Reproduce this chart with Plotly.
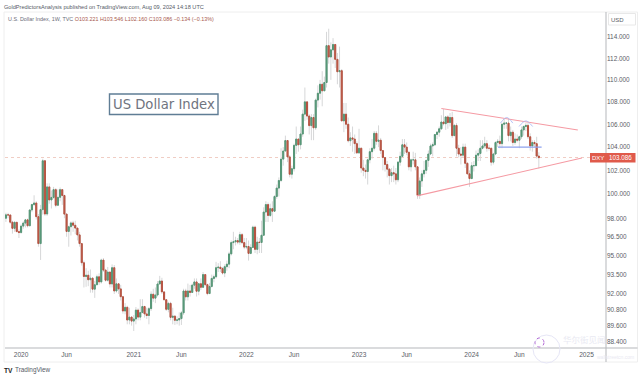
import pandas as pd
import plotly.graph_objects as go

W, H = 643, 379
L, R, T, B = 5, 606, 12, 348

first_week = "2019-11-18"

closes = [
 98.28,98.27,97.68,97.18,97.67,96.92,96.84,
 97.36,97.61,97.87,97.39,98.68,99.13,99.26,98.13,95.95,98.71,102.82,98.35,100.6,99.51,99.72,100.37,99.07,99.73,100.37,99.88,98.34,96.93,97.31,97.62,97.43,97.2,96.65,95.95,94.43,93.35,93.45,93.1,93.22,92.37,92.71,93.33,92.93,94.64,93.85,93.06,93.7,92.77,94.04,92.23,92.78,92.39,91.79,90.7,90.98,90.02,90.24,89.94,
 90.1,90.77,90.24,90.58,91.04,90.48,90.36,90.88,91.98,91.68,91.92,92.77,93.0,92.16,91.56,90.83,91.28,90.22,90.31,90.0,90.03,90.13,90.56,92.23,91.78,92.23,92.12,92.68,92.93,92.21,92.79,92.51,93.5,92.72,92.03,92.58,93.2,93.33,94.04,94.08,93.97,93.62,94.12,94.32,95.13,96.03,96.09,96.19,96.07,96.67,96.03,95.67,
 95.72,95.17,95.64,97.28,95.49,96.07,96.04,96.62,98.51,99.13,98.23,98.79,98.58,99.8,100.5,101.14,102.96,103.66,104.57,103.15,101.67,102.14,104.15,104.7,104.2,105.14,106.9,108.0,106.73,105.88,106.6,105.69,108.16,108.78,109.6,109.0,109.76,113.19,112.12,112.79,113.3,111.9,110.75,110.85,106.3,106.9,106.0,104.55,104.8,104.7,104.3,103.5,
 103.9,102.2,102.0,101.9,102.9,103.6,103.9,105.2,104.5,104.6,103.7,103.1,102.5,102.1,101.55,101.8,101.7,101.2,102.7,103.2,104.2,104.0,103.55,102.3,102.9,102.9,102.3,99.9,101.1,101.7,102.0,102.85,103.4,104.1,104.2,105.1,105.3,105.6,106.2,106.05,106.65,106.15,106.6,105.0,105.9,103.9,103.4,103.3,104.0,102.6,101.7,101.3,
 102.4,102.4,103.3,103.45,103.9,104.1,104.3,103.9,103.9,102.7,103.4,104.4,104.5,104.3,106.0,106.1,106.1,105.0,105.3,104.4,104.7,104.6,104.9,105.5,105.8,105.9,104.9,104.1,104.4,104.3,103.221,103.086,
]
opens = [
 98.0,98.28,98.27,97.68,97.18,97.67,96.92,
 96.84,97.36,97.61,97.87,97.39,98.68,99.13,99.26,98.13,95.95,98.71,102.82,98.35,100.6,99.51,99.72,100.37,99.07,99.73,100.37,99.88,98.34,96.93,97.31,97.62,97.43,97.2,96.65,95.95,94.43,93.35,93.45,93.1,93.22,92.37,92.71,93.33,92.93,94.64,93.85,93.06,93.7,92.77,94.04,92.23,92.78,92.39,91.79,90.7,90.98,90.02,90.24,
 89.94,90.1,90.77,90.24,90.58,91.04,90.48,90.36,90.88,91.98,91.68,91.92,92.77,93.0,92.16,91.56,90.83,91.28,90.22,90.31,90.0,90.03,90.13,90.56,92.23,91.78,92.23,92.12,92.68,92.93,92.21,92.79,92.51,93.5,92.72,92.03,92.58,93.2,93.33,94.04,94.08,93.97,93.62,94.12,94.32,95.13,96.03,96.09,96.19,96.07,96.67,96.03,
 95.67,95.72,95.17,95.64,97.28,95.49,96.07,96.04,96.62,98.51,99.13,98.23,98.79,98.58,99.8,100.5,101.14,102.96,103.66,104.57,103.15,101.67,102.14,104.15,104.7,104.2,105.14,106.9,108.0,106.73,105.88,106.6,105.69,108.16,108.78,109.6,109.0,109.76,113.19,112.12,112.79,113.3,111.9,110.75,110.85,106.3,106.9,106.0,104.55,104.8,104.7,104.3,
 103.5,103.9,102.2,102.0,101.9,102.9,103.6,103.9,105.2,104.5,104.6,103.7,103.1,102.5,102.1,101.55,101.8,101.7,101.2,102.7,103.2,104.2,104.0,103.55,102.3,102.9,102.9,102.3,99.9,101.1,101.7,102.0,102.85,103.4,104.1,104.2,105.1,105.3,105.6,106.2,106.05,106.65,106.15,106.6,105.0,105.9,103.9,103.4,103.3,104.0,102.6,101.7,
 101.3,102.4,102.4,103.3,103.45,103.9,104.1,104.3,103.9,103.9,102.7,103.4,104.4,104.5,104.3,106.0,106.1,106.1,105.0,105.3,104.4,104.7,104.6,104.9,105.5,105.8,105.9,104.9,104.1,104.4,104.3,103.221,
]
highs = [
 98.45,98.45,98.3,97.8,97.75,97.7,97.1,
 97.5,97.75,97.95,97.97,98.75,99.2,99.9,99.4,98.35,99.1,102.99,102.3,100.9,100.9,100.3,100.6,100.5,100.4,100.55,100.4,99.95,98.4,97.4,97.75,97.8,97.8,97.0,96.9,95.8,94.6,94.0,93.8,93.9,93.3,93.0,93.5,93.6,94.75,94.8,93.95,94.1,93.2,94.3,94.25,93.2,92.8,92.7,91.85,91.3,91.1,90.95,90.3,
 90.4,91.0,90.9,91.6,91.6,91.1,90.95,91.0,92.2,92.4,92.5,93.0,93.4,93.25,92.2,91.5,91.4,91.4,90.95,90.4,90.3,90.6,90.7,92.4,92.4,92.8,92.7,92.8,93.2,93.2,92.8,93.2,93.7,93.5,92.8,92.85,93.5,93.5,94.5,94.4,94.55,94.1,94.3,94.6,95.3,96.2,96.9,96.5,96.4,96.9,96.8,96.4,
 96.4,96.2,95.9,97.4,97.4,96.5,96.4,97.8,98.9,99.4,99.3,99.2,99.4,99.9,100.8,101.4,103.9,104.0,105.0,104.0,103.3,102.4,104.3,105.8,104.6,105.8,107.3,109.3,107.4,106.9,106.9,106.9,108.3,109.5,110.0,110.8,110.3,114.5,114.8,113.5,113.9,113.1,112.5,113.1,111.0,107.9,107.9,106.6,105.3,105.8,105.1,104.5,
 105.6,103.95,102.9,102.5,103.0,103.9,104.7,105.4,105.4,105.9,104.8,103.7,103.1,102.8,102.2,102.2,102.4,102.2,102.8,103.6,104.7,104.7,104.4,103.6,103.0,103.6,103.5,102.3,101.4,102.0,102.8,102.9,103.7,104.3,104.4,105.1,105.4,105.8,106.8,107.35,106.7,106.8,107.0,107.1,106.0,106.1,104.2,104.0,104.3,104.3,102.7,102.0,
 102.7,102.8,103.7,103.8,104.6,104.6,104.9,104.6,104.2,103.9,103.5,104.5,104.7,105.0,106.1,106.5,106.2,106.5,105.8,105.5,105.2,105.1,105.0,105.8,105.9,106.1,106.1,105.2,104.6,104.6,104.9,103.546,
]
lows = [
 97.7,98.0,97.55,96.75,96.9,96.85,96.4,
 96.75,97.15,97.25,97.25,97.4,98.5,99.0,97.9,95.7,94.65,98.3,98.2,98.2,99.2,98.8,99.6,98.9,99.0,99.4,99.1,98.0,96.5,95.7,96.6,96.9,96.7,96.2,95.7,94.2,92.5,92.55,92.6,92.1,92.1,91.7,92.7,92.7,92.8,93.7,92.95,92.95,92.5,92.5,92.0,92.1,92.0,91.5,90.5,90.45,89.7,89.7,89.6,
 89.2,89.7,90.0,90.0,90.6,90.2,90.1,89.7,90.7,91.4,91.3,91.8,92.8,92.0,91.5,90.7,90.6,90.0,89.7,89.65,89.7,89.6,89.65,90.4,91.5,91.5,91.8,92.1,92.4,91.8,91.9,92.3,92.5,92.6,91.9,92.2,92.5,92.9,93.2,93.7,93.7,93.5,93.3,93.8,94.0,95.0,95.5,95.8,95.9,95.85,95.9,95.5,
 95.5,94.6,95.1,95.6,95.2,95.1,95.2,95.2,96.7,97.7,97.7,98.1,97.7,98.8,99.6,99.8,101.0,102.4,103.7,102.7,101.4,101.3,101.9,103.4,103.6,103.8,104.9,106.3,106.4,105.1,104.6,104.6,105.5,107.5,108.2,107.6,109.0,109.3,111.5,110.0,111.5,111.1,109.6,109.3,106.3,105.3,105.6,104.4,104.1,103.6,103.4,103.4,
 103.4,101.8,101.5,101.3,100.8,102.6,103.0,103.7,104.2,104.0,103.4,102.0,101.9,101.4,100.8,101.0,101.0,100.8,101.0,102.4,103.2,103.4,103.3,102.0,101.9,102.5,102.0,99.6,99.6,100.6,101.4,101.7,102.3,103.3,103.2,104.1,104.7,104.9,105.5,105.9,105.5,105.6,105.8,104.8,105.0,103.2,103.1,102.5,103.1,102.2,101.7,100.6,
 101.3,101.9,102.5,102.8,102.8,103.8,103.9,103.6,103.7,102.4,102.5,103.3,104.0,103.9,103.9,105.6,105.6,104.5,104.5,104.1,104.2,104.4,103.9,104.7,105.0,105.4,104.7,103.7,103.6,104.0,103.0,102.16,
]
assert len(opens) == len(highs) == len(lows) == len(closes) == 247

price_ticks = [114, 112, 110, 108, 106, 104, 102, 100, 98, 96.5, 95, 93.5, 92, 90.8, 89.6, 88.4]
price_labels = ["114.000","112.000","110.000","108.000","106.000","104.000","102.000","100.000",
                "98.000","96.500","95.000","93.500","92.000","90.800","89.600","88.400"]
date_ticks = ["2020-01-06","2020-06-01","2021-01-04","2021-06-07","2022-01-03","2022-06-06",
              "2023-01-02","2023-06-05","2024-01-01","2024-06-03","2025-01-06"]
date_labels = ["2020","Jun","2021","Jun","2022","Jun","2023","Jun","2024","Jun","2025"]

last_price = 103.086
upper_dates, upper_prices = ["2023-09-25","2024-12-09"], [107.4,105.5]
lower_dates, lower_prices = ["2023-07-08","2024-12-22"], [99.85,103.05]
neck_dates, neck_prices = ["2024-03-26","2024-08-14"], [104.0,104.0]
dome1_dates, dome1_prices = ["2024-04-03","2024-04-23","2024-05-13"], [106.1,106.6,106.1]
dome2_dates, dome2_prices = ["2024-06-02","2024-06-24","2024-07-16"], [105.8,106.3,105.8]

weeks = pd.date_range(first_week, periods=len(closes), freq="7D")
body_top = [max(o, c) for o, c in zip(opens, closes)]
body_bot = [min(o, c) for o, c in zip(opens, closes)]

GREEN, GREEN_E = "#5b9c7c", "#559676"
RED, RED_E = "#c8604f", "#b5513f"
WICK = "#d6d7d8"

fig = go.Figure()
fig.add_trace(go.Candlestick(x=weeks, open=opens, high=highs, low=lows, close=closes,
    increasing=dict(line=dict(color=WICK, width=1), fillcolor=WICK),
    decreasing=dict(line=dict(color=WICK, width=1), fillcolor=WICK),
    whiskerwidth=0, showlegend=False, hoverinfo="skip"))
fig.add_trace(go.Candlestick(x=weeks, open=opens, high=body_top, low=body_bot, close=closes,
    increasing=dict(line=dict(color=GREEN_E, width=1), fillcolor=GREEN),
    decreasing=dict(line=dict(color=RED_E, width=1), fillcolor=RED),
    whiskerwidth=0, showlegend=False))

def line(xs, ys, color, width=1.1, shape="linear"):
    fig.add_trace(go.Scatter(x=xs, y=ys, mode="lines", showlegend=False, hoverinfo="skip",
                             line=dict(color=color, width=width, shape=shape)))

line(upper_dates, upper_prices, "#f59aa3")
line(lower_dates, lower_prices, "#f59aa3")
line(neck_dates, neck_prices, "#8ea2ee")
line(dome1_dates, dome1_prices, "#aebcf5", 0.9, "spline")
line(dome2_dates, dome2_prices, "#aebcf5", 0.9, "spline")

def pxd(x): return (x - L) / (R - L)
def pyd(y): return (B - y) / (B - T)

shapes = [
    dict(type="rect", xref="paper", yref="paper", x0=pxd(4), x1=pxd(637.5), y0=pyd(12), y1=pyd(362),
         line=dict(color="#eeeeee", width=1), layer="below"),
    dict(type="line", xref="paper", yref="paper", x0=0, x1=1, y0=pyd(157.5), y1=pyd(157.5),
         line=dict(color="#f0cdc4", width=1, dash="dot"), layer="below"),
    dict(type="line", xref="paper", yref="paper", x0=1, x1=1, y0=pyd(12), y1=pyd(362),
         line=dict(color="#b5b7bb", width=1)),
    dict(type="line", xref="paper", yref="paper", x0=0, x1=pxd(637.5), y0=0, y1=0,
         line=dict(color="#b5b7bb", width=1)),
    dict(type="rect", xref="paper", yref="paper", x0=pxd(109.5), x1=pxd(218), y0=pyd(94), y1=pyd(114.5),
         line=dict(color="#5f7d95", width=1.4), fillcolor="white"),
    dict(type="rect", xref="paper", yref="paper", x0=pxd(608.5), x1=pxd(635.5), y0=pyd(13.5), y1=pyd(25),
         line=dict(color="#e8e8e8", width=1)),
    dict(type="rect", xref="paper", yref="paper", x0=pxd(590), x1=pxd(635.5), y0=pyd(153), y1=pyd(162.5),
         line=dict(width=0), fillcolor="#e05a4b"),
    dict(type="circle", xref="paper", yref="paper", x0=pxd(533), x1=pxd(560), y0=pyd(335), y1=pyd(363),
         line=dict(color="#e6e6f6", width=1)),
    dict(type="circle", xref="paper", yref="paper", x0=pxd(535), x1=pxd(544), y0=pyd(338), y1=pyd(347),
         line=dict(color="#b46bd6", width=1, dash="dot")),
]

GREY = "#6a6d78"
OHLC = "#a8594e"
FONT = "Liberation Sans"
anns = []
def pa(x, y, s, **k):
    anns.append(dict(xref="paper", yref="paper", x=pxd(x), y=pyd(y), text=s, showarrow=False,
                     xanchor=k.get("anchor","left"), yanchor="middle",
                     font=dict(size=k.get("size",6.1), color=k.get("color",GREY), family=k.get("font",FONT)),
                     borderpad=0, borderwidth=0))
pa(3.5, 7, "GoldPredictorsAnalysis published on TradingView.com, Aug 09, 2024 14:18 UTC", size=5.6, color="#555a66")
pa(7.5, 19, "U.S. Dollar Index, 1W, TVC "
   f"<span style='color:{OHLC}'>O103.221 H103.546 L102.160 C103.086 −0.134 (−0.13%)</span>", size=5.4)
pa(163.7, 104.5, "US Dollar Index", size=13.2, color="#6f7480", font="DejaVu Sans", anchor="center")
pa(617, 19.5, "USD", size=6, anchor="center", color="#5a5d66")
pa(598, 157.8, "DXY", size=6, color="white", anchor="center")
pa(620.5, 157.8, f"{last_price:.3f}", size=6.3, color="white", anchor="center")
pa(15, 370, "TradingView", size=6.4, color="#555a66")
pa(563, 339, "华尔街见闻", size=8.5, color="#e9e9f2", font="Noto Sans CJK SC")
pa(597, 357, "wallstreetcn.com", size=5, color="#e9e9f2")
pa(4, 370, "<b>TV</b>", size=6.6, color="#222222")

fig.update_layout(
    width=W, height=H, autosize=False,
    margin=dict(l=L, r=W - R, t=T, b=H - B, pad=0),
    paper_bgcolor="white", plot_bgcolor="white",
    showlegend=False, shapes=shapes, annotations=anns,
    xaxis=dict(type="date", range=["2019-11-15", "2025-03-10"], rangeslider=dict(visible=False),
               tickmode="array", tickvals=date_ticks, ticktext=date_labels, showgrid=False, zeroline=False,
               ticks="", showline=False, ticklabelstandoff=1,
               tickfont=dict(family=FONT, size=6.6, color="#5a5d66")),
    yaxis=dict(type="log", range=[1.9442, 2.0660], side="right", tickmode="array",
               tickvals=price_ticks, ticktext=price_labels, showgrid=False, zeroline=False,
               ticks="", showline=False, tickfont=dict(family=FONT, size=6.4, color="#5a5d66")),
)
fig.write_html("out.html", config=dict(displayModeBar=False),
               post_script="document.body.style.margin='0';document.body.style.overflow='hidden';")
